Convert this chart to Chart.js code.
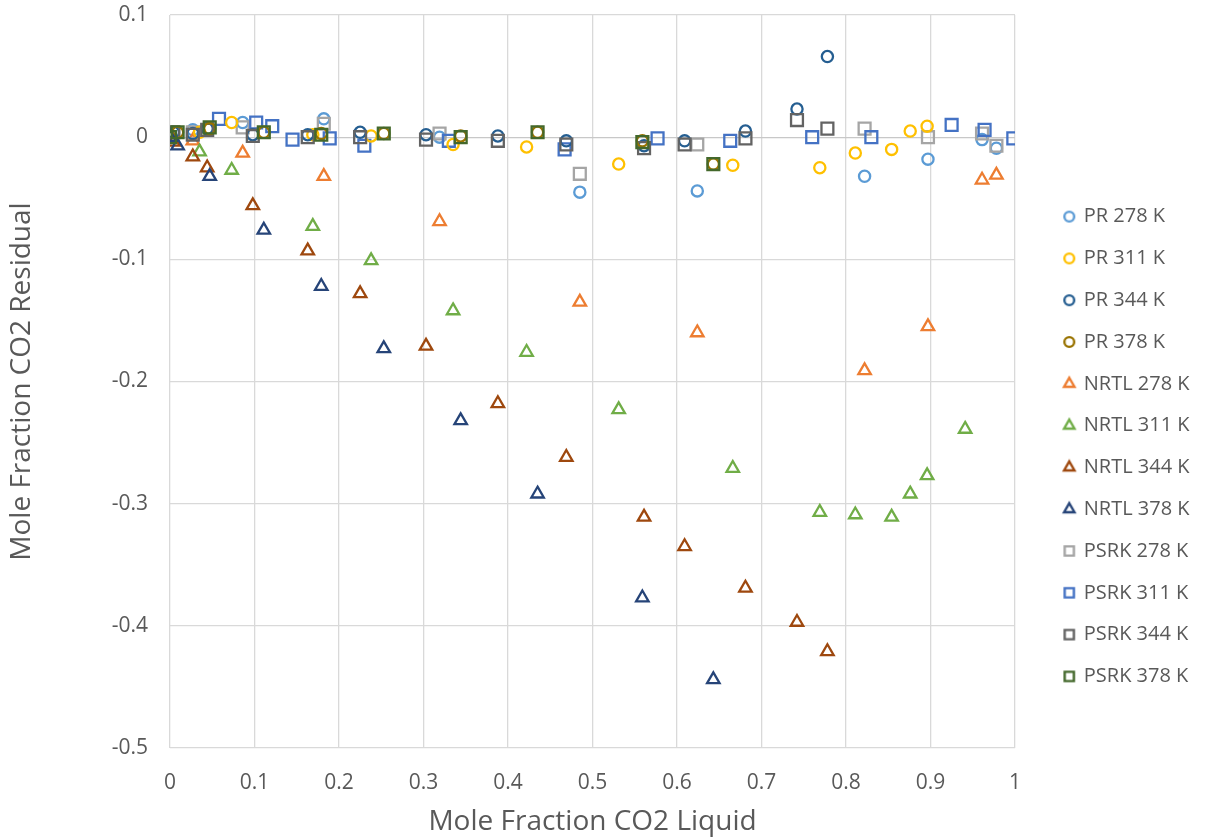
<!DOCTYPE html>
<html>
<head>
<meta charset="utf-8">
<script src="https://cdn.jsdelivr.net/npm/chart.js@4/dist/chart.umd.min.js"></script>
<style>
  html, body { margin: 0; padding: 0; background: #ffffff; }
  #wrap { width: 1205px; height: 839px; position: relative; }
</style>
</head>
<body>
<div id="wrap"><canvas id="chart"></canvas></div>
<script>
// Axis ticks
const xTickValues = [0, 0.1, 0.2, 0.3, 0.4, 0.5, 0.6, 0.7, 0.8, 0.9, 1];
const yTickValues = [0.1, 0, -0.1, -0.2, -0.3, -0.4, -0.5];

// Liquid CO2 mole fractions per temperature
const x278 = [0.027, 0.086, 0.182, 0.319, 0.485, 0.624, 0.822, 0.897, 0.961, 0.978];
const x311 = [0.035, 0.073, 0.169, 0.238, 0.335, 0.422, 0.531, 0.666, 0.769, 0.811, 0.854, 0.876, 0.896, 0.941];
const x311Psrk = [0.058, 0.102, 0.121, 0.145, 0.189, 0.230, 0.330, 0.467, 0.577, 0.663, 0.760, 0.830, 0.925, 0.964, 0.998];
const x344 = [0.004, 0.027, 0.044, 0.098, 0.163, 0.225, 0.303, 0.388, 0.469, 0.561, 0.609, 0.681, 0.742, 0.778];
const x378 = [0.000, 0.009, 0.047, 0.111, 0.179, 0.253, 0.344, 0.435, 0.559, 0.643];

// Residuals, Peng-Robinson
const pr278 = [0.006, 0.012, 0.015, 0.000, -0.045, -0.044, -0.032, -0.018, -0.002, -0.009];
const pr311 = [0.004, 0.012, 0.002, 0.001, -0.006, -0.008, -0.022, -0.023, -0.025, -0.013, -0.010, 0.005, 0.009, null];
const pr344 = [0.004, 0.003, 0.007, 0.002, 0.002, 0.004, 0.002, 0.001, -0.003, -0.007, -0.003, 0.005, 0.023, 0.066];
const pr378 = [0.000, 0.004, 0.007, 0.004, 0.003, 0.003, 0.001, 0.004, -0.003, -0.022];

// Residuals, NRTL
const nrtl278 = [-0.003, -0.013, -0.032, -0.069, -0.135, -0.160, -0.191, -0.155, -0.035, -0.031];
const nrtl311 = [-0.012, -0.027, -0.073, -0.101, -0.142, -0.176, -0.223, -0.271, -0.307, -0.309, -0.311, -0.292, -0.277, -0.239];
const nrtl344 = [-0.004, -0.016, -0.025, -0.056, -0.093, -0.128, -0.171, -0.218, -0.262, -0.311, -0.335, -0.369, -0.397, -0.421];
const nrtl378 = [0.000, -0.007, -0.032, -0.076, -0.122, -0.173, -0.232, -0.292, -0.377, -0.444];

// Residuals, PSRK
const psrk278 = [0.004, 0.008, 0.011, 0.003, -0.030, -0.006, 0.007, 0.000, 0.003, -0.007];
const psrk311 = [0.015, 0.012, 0.009, -0.002, -0.001, -0.007, -0.003, -0.010, -0.001, -0.003, 0.000, 0.000, 0.010, 0.006, -0.001];
const psrk344 = [0.004, 0.002, 0.006, 0.001, 0.000, 0.000, -0.002, -0.003, -0.006, -0.009, -0.006, -0.001, 0.014, 0.007];
const psrk378 = [0.000, 0.004, 0.008, 0.004, 0.002, 0.003, 0.000, 0.004, -0.004, -0.022];

function pts(xs, ys) {
  const out = [];
  xs.forEach((x, i) => { if (ys[i] !== null && ys[i] !== undefined) out.push({ x: x, y: ys[i] }); });
  return out;
}

const TEXT = '#595959';
const FONT = "'Open Sans', 'Liberation Sans', sans-serif";

// label, points, colour, marker, stacking rank (higher rank drawn later / on top)
const seriesDefs = [
  ['PR 278 K',   pts(x278, pr278),       '#5B9BD5', 'circle',   0],
  ['PR 311 K',   pts(x311, pr311),       '#FFC000', 'circle',   4],
  ['PR 344 K',   pts(x344, pr344),       '#255E91', 'circle',   6],
  ['PR 378 K',   pts(x378, pr378),       '#997300', 'circle',   9],
  ['NRTL 278 K', pts(x278, nrtl278),     '#ED7D31', 'triangle', 1],
  ['NRTL 311 K', pts(x311, nrtl311),     '#70AD47', 'triangle', 5],
  ['NRTL 344 K', pts(x344, nrtl344),     '#9E480E', 'triangle', 7],
  ['NRTL 378 K', pts(x378, nrtl378),     '#264478', 'triangle', 10],
  ['PSRK 278 K', pts(x278, psrk278),     '#A5A5A5', 'rect',     2],
  ['PSRK 311 K', pts(x311Psrk, psrk311), '#4472C4', 'rect',     3],
  ['PSRK 344 K', pts(x344, psrk344),     '#636363', 'rect',     8],
  ['PSRK 378 K', pts(x378, psrk378),     '#43682B', 'rect',     11]
];

const markerRadius = { circle: 5.6, triangle: 7.2, rect: 8.4 };
const legendRadius = { circle: 4.9, triangle: 6.0, rect: 6.5 };

const datasets = seriesDefs.map(([label, data, color, shape, rank]) => ({
  label: label,
  data: data,
  showLine: false,
  pointStyle: shape,
  pointRadius: markerRadius[shape],
  pointHoverRadius: markerRadius[shape],
  pointBorderWidth: 2.3,
  pointHoverBorderWidth: 2.3,
  borderColor: color,
  backgroundColor: 'rgba(0,0,0,0)',
  pointBackgroundColor: 'rgba(0,0,0,0)',
  order: 20 - rank
}));

// Small legend glyph, drawn with Chart.js's own point renderer
function legendGlyph(shape, color) {
  const c = document.createElement('canvas');
  c.width = 18; c.height = 18;
  const g = c.getContext('2d');
  g.strokeStyle = color;
  g.fillStyle = 'rgba(0,0,0,0)';
  g.lineWidth = 2.4;
  Chart.helpers.drawPoint(g, { pointStyle: shape, radius: legendRadius[shape], borderWidth: 2.4, rotation: 0 }, 9, 9);
  return c;
}

function fmt(v) {
  const r = Math.round(v * 10) / 10;
  return Math.abs(r) < 1e-9 ? '0' : String(r);
}

// Places the legend block a little right of the plot and lower on the page
const legendOffset = {
  id: 'legendOffset',
  afterLayout(chart) {
    const lg = chart.legend;
    if (!lg) return;
    const dx = 28, dy = 27;
    lg.left += dx; lg.right += dx;
    lg.top += dy; lg.bottom += dy;
  }
};

new Chart(document.getElementById('chart'), {
  type: 'scatter',
  data: { datasets: datasets },
  plugins: [legendOffset],
  options: {
    responsive: true,
    maintainAspectRatio: false,
    animation: false,
    events: [],
    layout: { padding: 0 },
    plugins: {
      tooltip: { enabled: false },
      legend: {
        position: 'right',
        labels: {
          usePointStyle: true,
          boxWidth: 9,
          boxHeight: 9,
          padding: 21.8,
          color: TEXT,
          font: { family: FONT, size: 20 },
          sort: (a, b) => a.datasetIndex - b.datasetIndex,
          generateLabels(chart) {
            return chart.data.datasets.map((ds, i) => ({
              text: ds.label,
              datasetIndex: i,
              pointStyle: legendGlyph(seriesDefs[i][3], ds.borderColor),
              strokeStyle: ds.borderColor,
              fillStyle: 'rgba(0,0,0,0)',
              fontColor: TEXT,
              lineWidth: 2.4,
              hidden: false
            }));
          }
        }
      }
    },
    scales: {
      x: {
        type: 'linear',
        position: 'bottom',
        min: 0,
        max: 1,
        afterBuildTicks(scale) { scale.ticks = xTickValues.map(v => ({ value: v })); },
        afterFit(scale) { scale.height = 91; scale.paddingRight = 190; },
        ticks: {
          padding: 22,
          color: TEXT,
          font: { family: FONT, size: 21 },
          maxRotation: 0,
          autoSkip: false,
          callback: fmt
        },
        grid: { color: '#D9D9D9', lineWidth: 1.3, drawTicks: false },
        border: { display: false },
        title: {
          display: true,
          text: 'Mole Fraction CO2 Liquid',
          color: TEXT,
          font: { family: FONT, size: 28 },
          padding: { top: 0, bottom: 0 }
        }
      },
      y: {
        type: 'linear',
        min: -0.5,
        max: 0.1,
        afterBuildTicks(scale) { scale.ticks = yTickValues.slice().reverse().map(v => ({ value: v })); },
        afterFit(scale) { scale.width = 170; scale.paddingTop = 15; },
        ticks: {
          padding: 22,
          color: TEXT,
          font: { family: FONT, size: 21 },
          autoSkip: false,
          callback: fmt
        },
        grid: {
          color: (ctx) => (ctx.tick && Math.abs(ctx.tick.value) < 1e-9 ? '#C8C8C8' : '#D9D9D9'),
          lineWidth: 1.3,
          drawTicks: false
        },
        border: { display: false },
        title: {
          display: true,
          text: 'Mole Fraction CO2 Residual',
          color: TEXT,
          font: { family: FONT, size: 28 },
          padding: { top: 5, bottom: 0 }
        }
      }
    }
  }
});
</script>
</body>
</html>
